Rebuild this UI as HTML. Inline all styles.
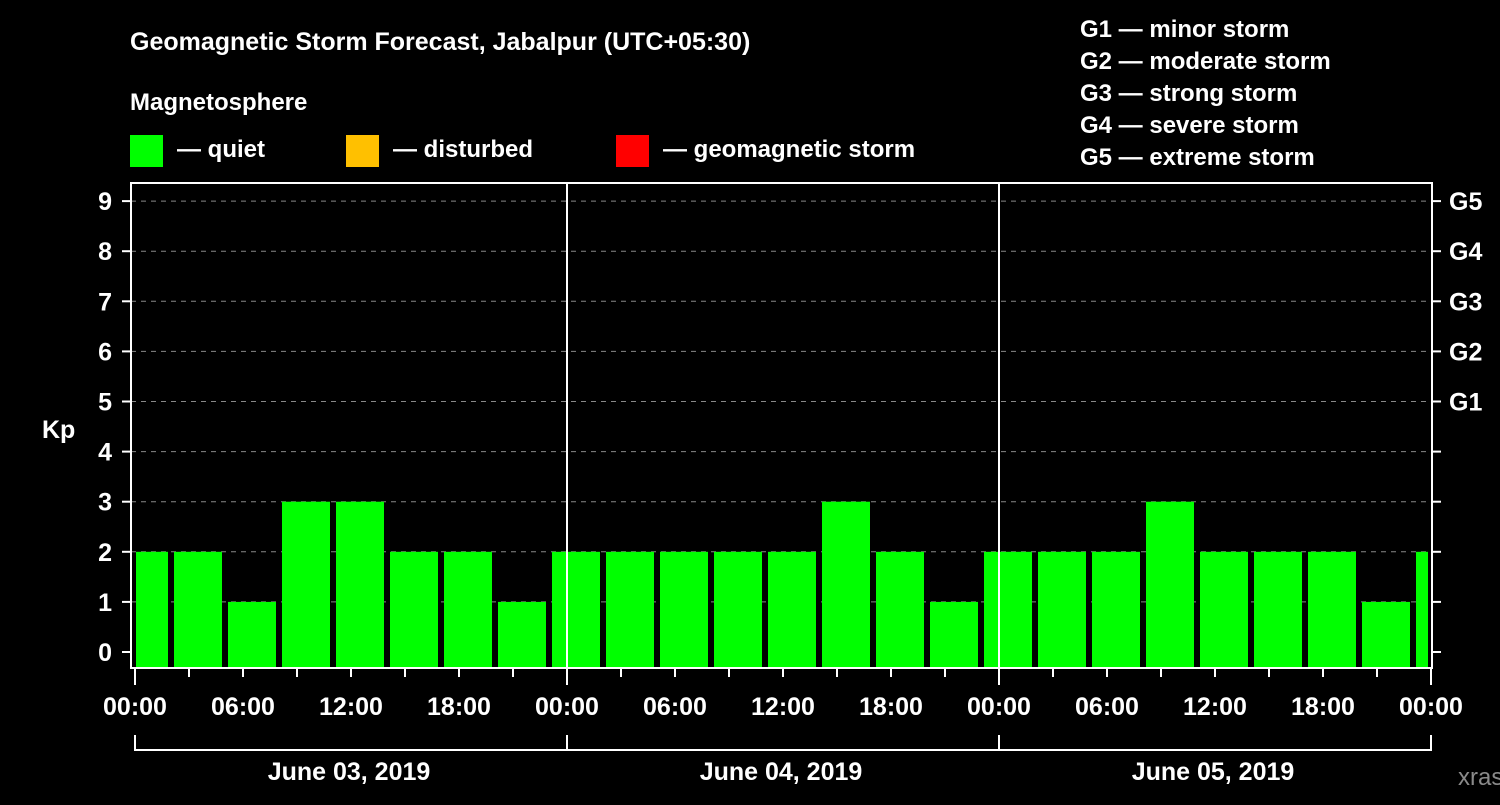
<!DOCTYPE html>
<html><head><meta charset="utf-8"><style>
body{margin:0;background:#000;width:1500px;height:800px;overflow:hidden}
svg text{font-family:"Liberation Sans",sans-serif;font-weight:bold;fill:#fff}
</style></head><body>
<svg id="c" width="1500" height="800" xmlns="http://www.w3.org/2000/svg">
<text x="130" y="50" font-size="25">Geomagnetic Storm Forecast, Jabalpur (UTC+05:30)</text>
<text x="130" y="110" font-size="24">Magnetosphere</text>
<g><rect x="130" y="135" width="33" height="32" fill="#00ff00"/><text x="177" y="157" font-size="24">— quiet</text></g>
<g><rect x="346" y="135" width="33" height="32" fill="#ffc000"/><text x="393" y="157" font-size="24">— disturbed</text></g>
<g><rect x="616" y="135" width="33" height="32" fill="#ff0000"/><text x="663" y="157" font-size="24">— geomagnetic storm</text></g>
<g font-size="24">
<text x="1080" y="37">G1 — minor storm</text><text x="1080" y="69">G2 — moderate storm</text><text x="1080" y="101">G3 — strong storm</text><text x="1080" y="133">G4 — severe storm</text><text x="1080" y="165">G5 — extreme storm</text></g>
<text x="42" y="438" font-size="25">Kp</text>
<text x="1458" y="785" font-size="24" fill="#888" style="fill:#8a8a8a;font-weight:normal">xras.ru</text>
<defs><clipPath id="pc"><rect x="136" y="183" width="1292" height="485"/></clipPath></defs>
<g id="grid"></g><g id="bars" clip-path="url(#pc)"></g><g id="axes"></g>
</svg>
<script>
const kpValues=[2,2,1,3,3,2,2,1,2,2,2,2,2,3,2,1,2,2,2,3,2,2,2,1,2];
const yTicks=[0,1,2,3,4,5,6,7,8,9];
const gLabels=["G1","G2","G3","G4","G5"];
const gLevels=[5,6,7,8,9];
const xLabels=["00:00","06:00","12:00","18:00","00:00","06:00","12:00","18:00","00:00","06:00","12:00","18:00","00:00"];
const dayLabels=["June 03, 2019","June 04, 2019","June 05, 2019"];
const tzOffsetHours=5.5;
const X0=135,HPX=18,Y0=652,UPY=50.1;
const xs=h=>X0+h*HPX, ys=v=>Y0-v*UPY;
const NS="http://www.w3.org/2000/svg";
function mk(p,t,a){const e=document.createElementNS(NS,t);for(const k in a)e.setAttribute(k,a[k]);document.getElementById(p).appendChild(e);return e;}
yTicks.slice(1).forEach(v=>{const l=mk('grid','line',{x1:131,x2:1432,y1:ys(v),y2:ys(v),stroke:'#888','stroke-dasharray':'5,5','stroke-width':1});

});
kpValues.forEach((v,i)=>{const start=-tzOffsetHours+ -1.5*0 + i*3 - 3 + 3 - (tzOffsetHours%3? 0:0);
const h0=i*3-(tzOffsetHours-3+0.5)+0; // bar start hour relative to local midnight
const x=xs(i*3-0.75-(tzOffsetHours-5.5))+0;
const r=mk('bars','rect',{x:xs(i*3)-15,y:ys(v),width:48,height:668-ys(v),fill:'#00ff00'});

});
mk('axes','rect',{x:131,y:183,width:1301,height:485,fill:'none',stroke:'#fff','stroke-width':2});
[1,2].forEach(d=>{const l=mk('axes','line',{x1:xs(24*d),x2:xs(24*d),y1:183,y2:668,stroke:'#fff','stroke-width':2});

});
yTicks.forEach(v=>{mk('axes','line',{x1:122,x2:131,y1:ys(v),y2:ys(v),stroke:'#fff','stroke-width':2});
mk('axes','line',{x1:1432,x2:1441,y1:ys(v),y2:ys(v),stroke:'#fff','stroke-width':2});
const t=mk('axes','text',{x:112,y:ys(v)+9,'font-size':25,'text-anchor':'end'});t.textContent=v;

});
gLabels.forEach((g,i)=>{const t=mk('axes','text',{x:1449,y:ys(gLevels[i])+9,'font-size':25});t.textContent=g;

});
for(let h=0;h<=72;h+=3){mk('axes','line',{x1:xs(h),x2:xs(h),y1:668,y2:h%24==0?685:677,stroke:'#fff','stroke-width':2});}
xLabels.forEach((s,i)=>{const t=mk('axes','text',{x:xs(i*6),y:715,'font-size':25,'text-anchor':'middle'});t.textContent=s;

});
mk('axes','path',{d:`M${xs(0)},735V750H${xs(72)}V735M${xs(24)},735V750M${xs(48)},735V750`,fill:'none',stroke:'#fff','stroke-width':2});
dayLabels.forEach((s,i)=>{const t=mk('axes','text',{x:xs(i*24+12)-2,y:780,'font-size':25,'text-anchor':'middle'});t.textContent=s;

});
</script>
</body></html>
